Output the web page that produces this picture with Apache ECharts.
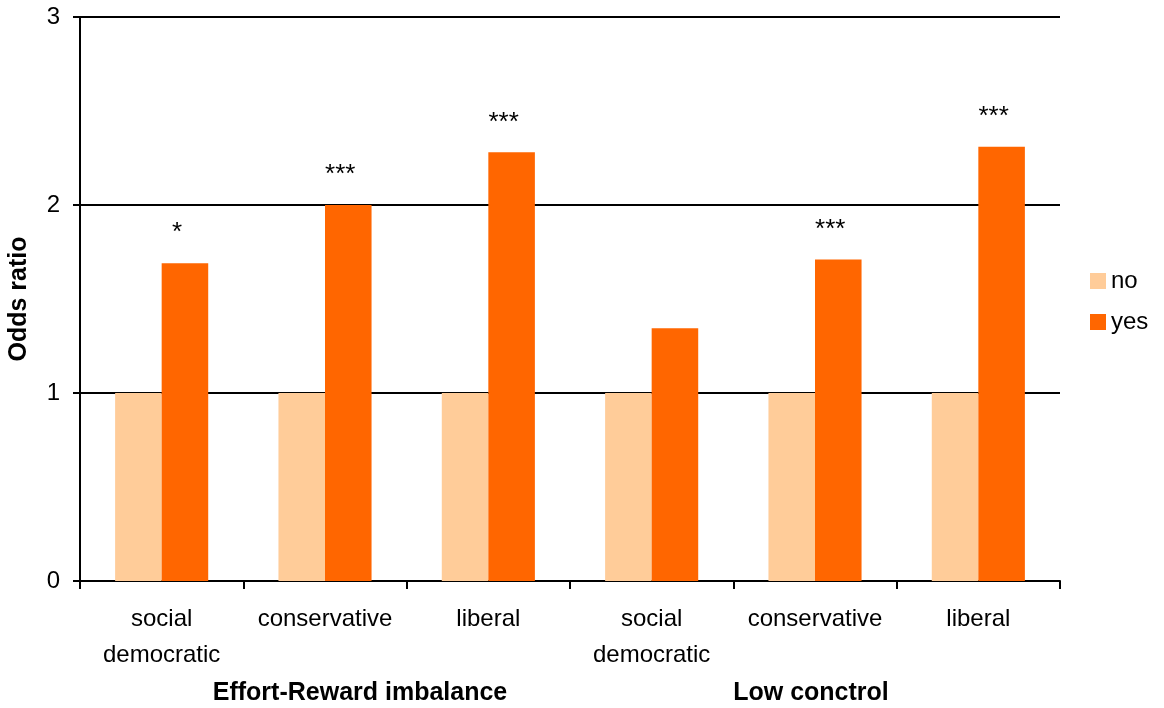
<!DOCTYPE html>
<html><head><meta charset="utf-8">
<script src="https://cdn.jsdelivr.net/npm/echarts@6/dist/echarts.min.js"></script>
<style>html,body{margin:0;padding:0;background:#fff}#c{width:1164px;height:708px}</style>
</head><body><div id="c"></div>
<script>
const categories = ['social\ndemocratic','conservative','liberal','social\ndemocratic','conservative','liberal'];
const groups = ['Effort-Reward imbalance','Low conctrol'];
const noValues = [1,1,1,1,1,1];
const yesValues = [1.69,2.00,2.28,1.345,1.71,2.31];
const significance = ['*','***','***','','***','***'];
const yTicks = [0,1,2,3];

const FONT = '"Liberation Sans", Arial, sans-serif';
const chart = echarts.init(document.getElementById('c'));
chart.setOption({
  backgroundColor:'#fff',
  animation:false,
  textStyle:{fontFamily:FONT},
  grid:{left:80,right:104,top:17,bottom:127,outerBoundsMode:'none',containLabel:false},
  legend:{
    orient:'vertical', left:1085, top:264, itemWidth:16, itemHeight:16, itemGap:17,
    icon:'rect',
    textStyle:{fontSize:24,color:'#000',fontFamily:FONT},
    data:['no','yes']
  },
  xAxis:[{
    type:'category', data:categories,
    axisLine:{lineStyle:{color:'#000',width:2}},
    axisTick:{show:true,length:8,lineStyle:{color:'#000',width:2}},
    axisLabel:{fontSize:24,color:'#000',margin:20,lineHeight:36,interval:0,fontFamily:FONT}
  },{
    type:'category', data:groups, position:'bottom', offset:92,
    axisLine:{show:false}, axisTick:{show:false},
    axisLabel:{
      interval:0, color:'#000',
      formatter:(v,i)=> i===0 ? '{a|'+v+'}' : '{b|'+v+'}',
      rich:{
        a:{fontSize:25,fontWeight:'bold',color:'#000',fontFamily:FONT,padding:[0,0,0,70]},
        b:{fontSize:25,fontWeight:'bold',color:'#000',fontFamily:FONT,padding:[0,0,0,-8]}
      }
    }
  }],
  yAxis:{
    type:'value', min:0, max:3, interval:1,
    name:'Odds ratio', nameLocation:'middle', nameGap:48,
    nameTextStyle:{fontSize:25,fontWeight:'bold',color:'#000',fontFamily:FONT},
    axisLine:{show:true,lineStyle:{color:'#000',width:2}},
    axisTick:{show:true,length:7,lineStyle:{color:'#000',width:2}},
    axisLabel:{fontSize:24,color:'#000',margin:20,fontFamily:FONT,
      formatter:v=> yTicks.includes(v) ? String(v) : ''},
    splitLine:{show:true,lineStyle:{color:'#000',width:2}}
  },
  series:[{
    name:'no', type:'bar', data:noValues, barGap:'0%', barCategoryGap:'43%',
    itemStyle:{color:'#FFCC99'}
  },{
    name:'yes', type:'bar', data:yesValues, barGap:'0%', barCategoryGap:'43%',
    itemStyle:{color:'#FF6600'},
    label:{show:true, position:'top', distance:17, offset:[-8,0],
      formatter:p=>significance[p.dataIndex], fontSize:26, color:'#000', fontFamily:FONT}
  }]
});
</script></body></html>
